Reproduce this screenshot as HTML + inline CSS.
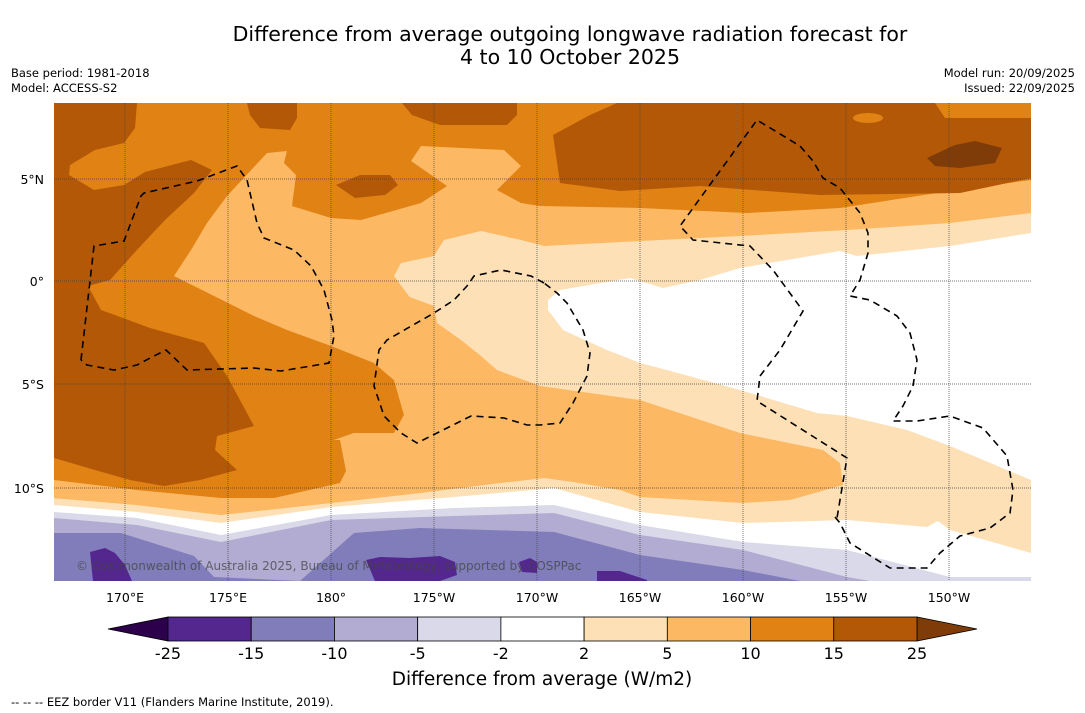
<!DOCTYPE html>
<html><head><meta charset="utf-8"><style>
body{margin:0;background:#fff;font-family:"DejaVu Sans",sans-serif;}
#wrap{position:relative;width:1085px;height:713px;overflow:hidden;background:#fff}
</style></head><body>
<div id="wrap">
<svg id="svg" width="1085" height="713" xmlns="http://www.w3.org/2000/svg" font-family="DejaVu Sans, sans-serif">
<text x="570" y="41" text-anchor="middle" font-size="20.5" fill="#000">Difference from average outgoing longwave radiation forecast for</text>
<text x="570" y="64" text-anchor="middle" font-size="20.5" fill="#000">4 to 10 October 2025</text>
<text x="11" y="77" font-size="11.5">Base period: 1981-2018</text>
<text x="11" y="92" font-size="11.5">Model: ACCESS-S2</text>
<text x="1075" y="77" font-size="11.5" text-anchor="end">Model run: 20/09/2025</text>
<text x="1075" y="92" font-size="11.5" text-anchor="end">Issued: 22/09/2025</text>
<defs><clipPath id="mc"><rect x="54" y="103" width="977" height="478"/></clipPath></defs>
<g clip-path="url(#mc)">
<rect x="54" y="103" width="977" height="478" fill="#e08214"/>
<polygon fill="#fdb863" points="174,276 191,250 207,223 227,196 267,153 287,151 284,163 296,175 292,206 331,218 361,220 421,203 447,186 411,161 421,146 504,150 521,166 497,190 521,203 540,206 640,208 747,213 840,208 950,191 1031,180 1031,581 54,581 54,500 331,490 346,471 334,463 334,440 354,433 394,433 404,415 394,380 374,363 331,346 287,330 254,316 214,296"/>
<polygon fill="#fee0b6" points="394,276 401,263 434,256 444,240 481,231 521,240 544,246 640,241 740,236 847,230 950,223 1031,213 1031,581 54,581 54,498 137,505 221,515 331,503 420,493 500,483 544,478"/>
<polygon fill="#fdb863" points="394,276 397,283 407,296 434,306 437,323 461,340 481,356 497,370 540,386 640,400 740,433 823,450 840,463 843,485 790,500 743,503 640,497 620,490 573,482 544,478 500,483 420,493 331,503 221,515 137,505 54,498 54,480 346,471 334,463 334,440 354,433 394,433 404,415 394,380 374,363"/>
<polygon fill="#e08214" points="54,440 340,440 346,471 340,483 274,498 221,498 137,490 54,480"/>
<polygon fill="#b35806" points="54,103 137,103 135,128 124,143 95,150 70,165 69,175 94,190 124,185 145,172 191,160 212,170 194,193 165,220 135,252 110,280 88,286 101,310 150,328 204,343 227,376 254,426 217,436 215,450 237,470 200,480 164,486 130,480 95,470 54,458"/>
<polygon fill="#b35806" points="247,103 297,103 297,118 290,130 260,128 250,115"/>
<polygon fill="#b35806" points="336,185 360,175 390,175 398,185 385,195 355,198"/>
<polygon fill="#b35806" points="402,103 517,103 517,115 507,125 440,125 412,115"/>
<polygon fill="#b35806" points="617,103 935,103 945,118 1031,118 1031,178 960,193 820,195 700,186 620,191 560,183 553,135 590,115"/>
<ellipse cx="868" cy="118" rx="15" ry="5" fill="#e08214"/>
<polygon fill="#7f3b08" points="927,158 955,145 975,141 1002,148 995,163 960,168 935,166"/>
<polygon fill="#ffffff" points="548,300 560,290 630,278 663,288 700,280 740,268 840,251 857,256 950,246 1031,233 1031,480 1007,470 950,446 907,430 847,416 817,413 740,390 667,370 640,363 607,350 563,330 548,310"/>
<polygon fill="#ffffff" points="54,505 137,512 221,523 331,507 454,497 554,488 640,512 743,523 847,520 927,527 938,521 950,530 1031,553 1031,581 54,581"/>
<polygon fill="#d9d9ea" points="54,512 137,518 221,535 331,515 454,508 554,505 640,525 743,542 847,550 950,577 1031,577 1031,581 54,581"/>
<polygon fill="#b2abd2" points="54,518 137,525 221,542 331,520 454,516 554,513 640,535 743,550 847,577 870,581 54,581"/>
<polygon fill="#807dba" points="54,533 121,533 194,556 214,577 300,581 354,533 420,528 554,532 640,555 743,570 800,581 54,581"/>
<polygon fill="#54278f" points="90,552 105,548 115,553 125,565 132,581 93,581"/>
<polygon fill="#54278f" points="366,560 380,557 410,558 440,556 455,562 457,575 440,581 375,581"/>
<polygon fill="#54278f" points="519,562 530,558 537,562 537,573 522,572"/>
<polygon fill="#54278f" points="597,571 620,571 647,580 647,581 597,581"/>
<g stroke="#444" stroke-width="0.7" stroke-dasharray="1,1">
<line x1="125" y1="103" x2="125" y2="581"/><line x1="228" y1="103" x2="228" y2="581"/><line x1="331" y1="103" x2="331" y2="581"/><line x1="434" y1="103" x2="434" y2="581"/><line x1="537" y1="103" x2="537" y2="581"/><line x1="640" y1="103" x2="640" y2="581"/><line x1="743" y1="103" x2="743" y2="581"/><line x1="846" y1="103" x2="846" y2="581"/><line x1="949" y1="103" x2="949" y2="581"/>
<line x1="54" y1="179" x2="1031" y2="179"/><line x1="54" y1="281" x2="1031" y2="281"/><line x1="54" y1="384" x2="1031" y2="384"/><line x1="54" y1="488" x2="1031" y2="488"/>
</g>
<g fill="none" stroke="#000" stroke-width="1.6" stroke-dasharray="7,5">
<polyline points="81,360 94,246 124,241 141,196 144,193 197,181 237,166 247,180 257,223 264,238 294,250 311,266 324,290 332,320 334,336 329,363 281,371 254,368 187,370 166,350 154,356 137,365 114,370 87,365 81,360"/>
<polyline points="544,283 531,276 501,270 474,276 467,286 454,300 434,313 387,340 379,350 374,386 384,416 401,433 417,443 471,416 504,418 527,425 540,425 560,423 573,403 587,376 590,353 583,330 567,303 557,293 544,283"/>
<polyline points="835,517 840,523 850,543 890,568 927,568 940,553 960,536 990,528 1010,513 1013,490 1007,456 983,428 950,416 917,421 893,421 903,406 913,386 917,360 910,333 897,316 870,300 850,296 860,280 868,253 868,233 860,213 840,188 823,178 813,161 800,146 757,120 717,175 680,226 693,240 750,246 773,270 803,311 780,350 760,376 757,401 847,458 837,518"/>
</g>
<text x="76" y="570" font-size="12" fill="#444" fill-opacity="0.75">© Commonwealth of Australia 2025, Bureau of Meteorology, supported by COSPPac</text>
</g>
<g font-size="12.5" fill="#000">
<text x="44" y="184" text-anchor="end">5°N</text><text x="44" y="286" text-anchor="end">0°</text><text x="44" y="389" text-anchor="end">5°S</text><text x="44" y="493" text-anchor="end">10°S</text>
</g>
<g font-size="12.5" fill="#000" text-anchor="middle">
<text x="125" y="602">170°E</text><text x="228" y="602">175°E</text><text x="331" y="602">180°</text><text x="434" y="602">175°W</text><text x="537" y="602">170°W</text><text x="640" y="602">165°W</text><text x="743" y="602">160°W</text><text x="846" y="602">155°W</text><text x="949" y="602">150°W</text>
</g>
<g id="cbar"></g>
<text x="542" y="685" text-anchor="middle" font-size="18.5">Difference from average (W/m2)</text>
<text x="11" y="706" font-size="11.5">--  --  -- EEZ border V11 (Flanders Marine Institute, 2019).</text>
</svg>
</div>
<script>
const levels = [-25, -15, -10, -5, -2, 2, 5, 10, 15, 25];
const binColors = ["#54278f", "#807dba", "#b2abd2", "#d9d9ea", "#ffffff", "#fee0b6", "#fdb863", "#e08214", "#b35806"];
const underColor = "#2d004b";
const overColor = "#7f3b08";
const NS = "http://www.w3.org/2000/svg";
const g = document.getElementById('cbar');
const x0 = 168, x1 = 917, yT = 617, yB = 641;
const step = (x1 - x0) / (levels.length - 1);
const xOf = i => x0 + i * step;
function mk(tag, attrs){const e=document.createElementNS(NS,tag);for(const k in attrs)e.setAttribute(k,attrs[k]);g.appendChild(e);return e;}
const tl = mk('polygon',{points:`${x0},${yT} ${x0},${yB} 108,${(yT+yB)/2}`,fill:underColor,stroke:'#000','stroke-width':0.8});


const tr = mk('polygon',{points:`${x1},${yT} ${x1},${yB} 977,${(yT+yB)/2}`,fill:overColor,stroke:'#000','stroke-width':0.8});


binColors.forEach((c,i)=>{
  const r = mk('rect',{x:xOf(i),y:yT,width:step,height:yB-yT,fill:c,stroke:'#000','stroke-width':0.8});
  
  
});
levels.forEach((v,i)=>{
  const t = mk('text',{x:xOf(i),y:659,'text-anchor':'middle','font-size':16});
  t.textContent = String(v);
  
  
});
</script>
</body></html>
